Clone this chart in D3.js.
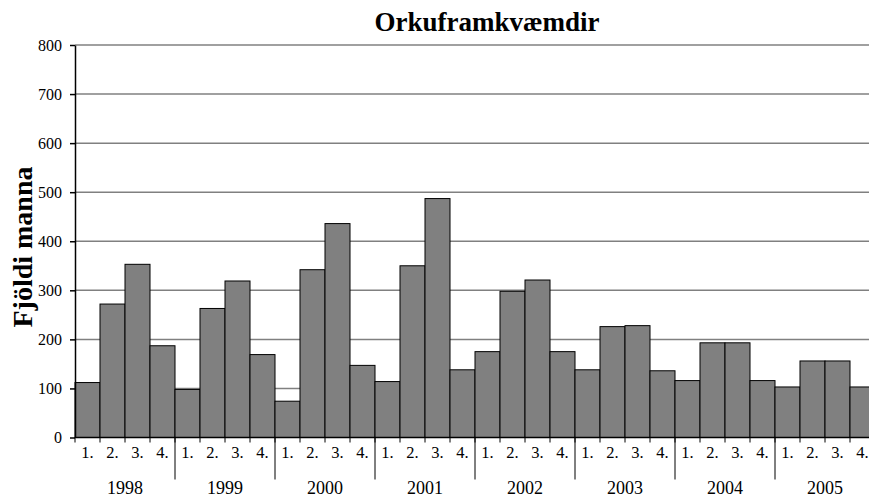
<!DOCTYPE html>
<html lang="is">
<head>
  <meta charset="UTF-8">
  <title>Orkuframkvæmdir</title>
  <script src="https://d3js.org/d3.v7.min.js"></script>
  <style>
    body { margin: 0; background: white; }
    svg text { font-family: "Liberation Serif", "DejaVu Serif", serif; fill: #000; }
    .grid line { stroke: #808080; stroke-width: 1.5px; }
    .bar { fill: #808080; stroke: #000; stroke-width: 1px; }
    .ylab text { font-size: 16px; }
    .qlab { font-size: 16.5px; }
    .yearlab { font-size: 18px; }
  </style>
</head>
<body>
<svg id="svg"></svg>
<script>
// data
const years = ["1998", "1999", "2000", "2001", "2002", "2003", "2004", "2005"];
const quarters = ["1.", "2.", "3.", "4."];
const values = [
  112, 272, 353, 187,
  98, 263, 319, 169,
  74, 342, 436, 147,
  114, 350, 487, 138,
  175, 298, 321, 175,
  138, 226, 228, 136,
  116, 193, 193, 116,
  103, 156, 156, 103
];
const yTicks = [0, 100, 200, 300, 400, 500, 600, 700, 800];

const width = 869, height = 497;
const margin = {left: 75, right: -6, top: 45, bottom: 59.5};

const svg = d3.select("#svg").attr("width", width).attr("height", height);

const bars = [];
years.forEach((yr, i) => quarters.forEach((q, j) => {
  bars.push({key: yr + "-" + q, year: yr, q: q, value: values[i * 4 + j]});
}));

const x = d3.scaleBand()
  .domain(bars.map(d => d.key))
  .range([margin.left, width - margin.right])
  .padding(0);
const y = d3.scaleLinear().domain([0, 800]).range([height - margin.bottom, margin.top]);

// gridlines
svg.append("g").attr("class", "grid")
  .selectAll("line")
  .data(yTicks.filter(d => d > 0))
  .join("line")
  .attr("x1", margin.left).attr("x2", width)
  .attr("y1", d => y(d)).attr("y2", d => y(d));

// bars
svg.append("g").selectAll("rect")
  .data(bars)
  .join("rect")
  .attr("class", "bar")
  .attr("x", d => x(d.key))
  .attr("width", x.bandwidth())
  .attr("y", d => y(d.value))
  .attr("height", d => y(0) - y(d.value));

// y axis
const yAxis = svg.append("g").attr("class", "ylab")
  .attr("transform", `translate(${margin.left},0)`)
  .call(d3.axisLeft(y).tickValues(yTicks).tickSize(5).tickPadding(8).tickSizeOuter(0));
yAxis.attr("font-family", null).attr("font-size", null);
yAxis.select(".domain").attr("stroke", "#000").attr("stroke-width", 1.5);
yAxis.selectAll(".tick line").attr("stroke", "#000").attr("stroke-width", 1.5);

// x axis line
const y0 = y(0);
svg.append("line")
  .attr("x1", margin.left).attr("x2", width)
  .attr("y1", y0).attr("y2", y0)
  .attr("stroke", "#000").attr("stroke-width", 1.5);

// small ticks at bar boundaries
svg.append("g").selectAll("line")
  .data(bars)
  .join("line")
  .attr("x1", d => x(d.key)).attr("x2", d => x(d.key))
  .attr("y1", y0).attr("y2", y0 + 5)
  .attr("stroke", "#000").attr("stroke-width", 1);

// year separators
svg.append("g").selectAll("line")
  .data(years.slice(1))
  .join("line")
  .attr("x1", d => x(d + "-1.")).attr("x2", d => x(d + "-1."))
  .attr("y1", y0).attr("y2", y0 + 42)
  .attr("stroke", "#000").attr("stroke-width", 1);

// quarter labels
svg.append("g").selectAll("text")
  .data(bars)
  .join("text")
  .attr("class", "qlab")
  .attr("x", d => x(d.key) + x.bandwidth() / 2)
  .attr("y", y0 + 20)
  .attr("text-anchor", "middle")
  .text(d => d.q);

// year labels
svg.append("g").selectAll("text")
  .data(years)
  .join("text")
  .attr("class", "yearlab")
  .attr("x", d => x(d + "-1.") + x.bandwidth() * 2)
  .attr("y", y0 + 56)
  .attr("text-anchor", "middle")
  .text(d => d);

// title
svg.append("text")
  .attr("x", 487).attr("y", 31)
  .attr("text-anchor", "middle")
  .attr("font-weight", "bold")
  .attr("font-size", 27)
  .text("Orkuframkvæmdir");

// y title
svg.append("text")
  .attr("transform", `translate(32,247) rotate(-90)`)
  .attr("text-anchor", "middle")
  .attr("font-weight", "bold")
  .attr("font-size", 28)
  .text("Fjöldi manna");
</script>
</body>
</html>
